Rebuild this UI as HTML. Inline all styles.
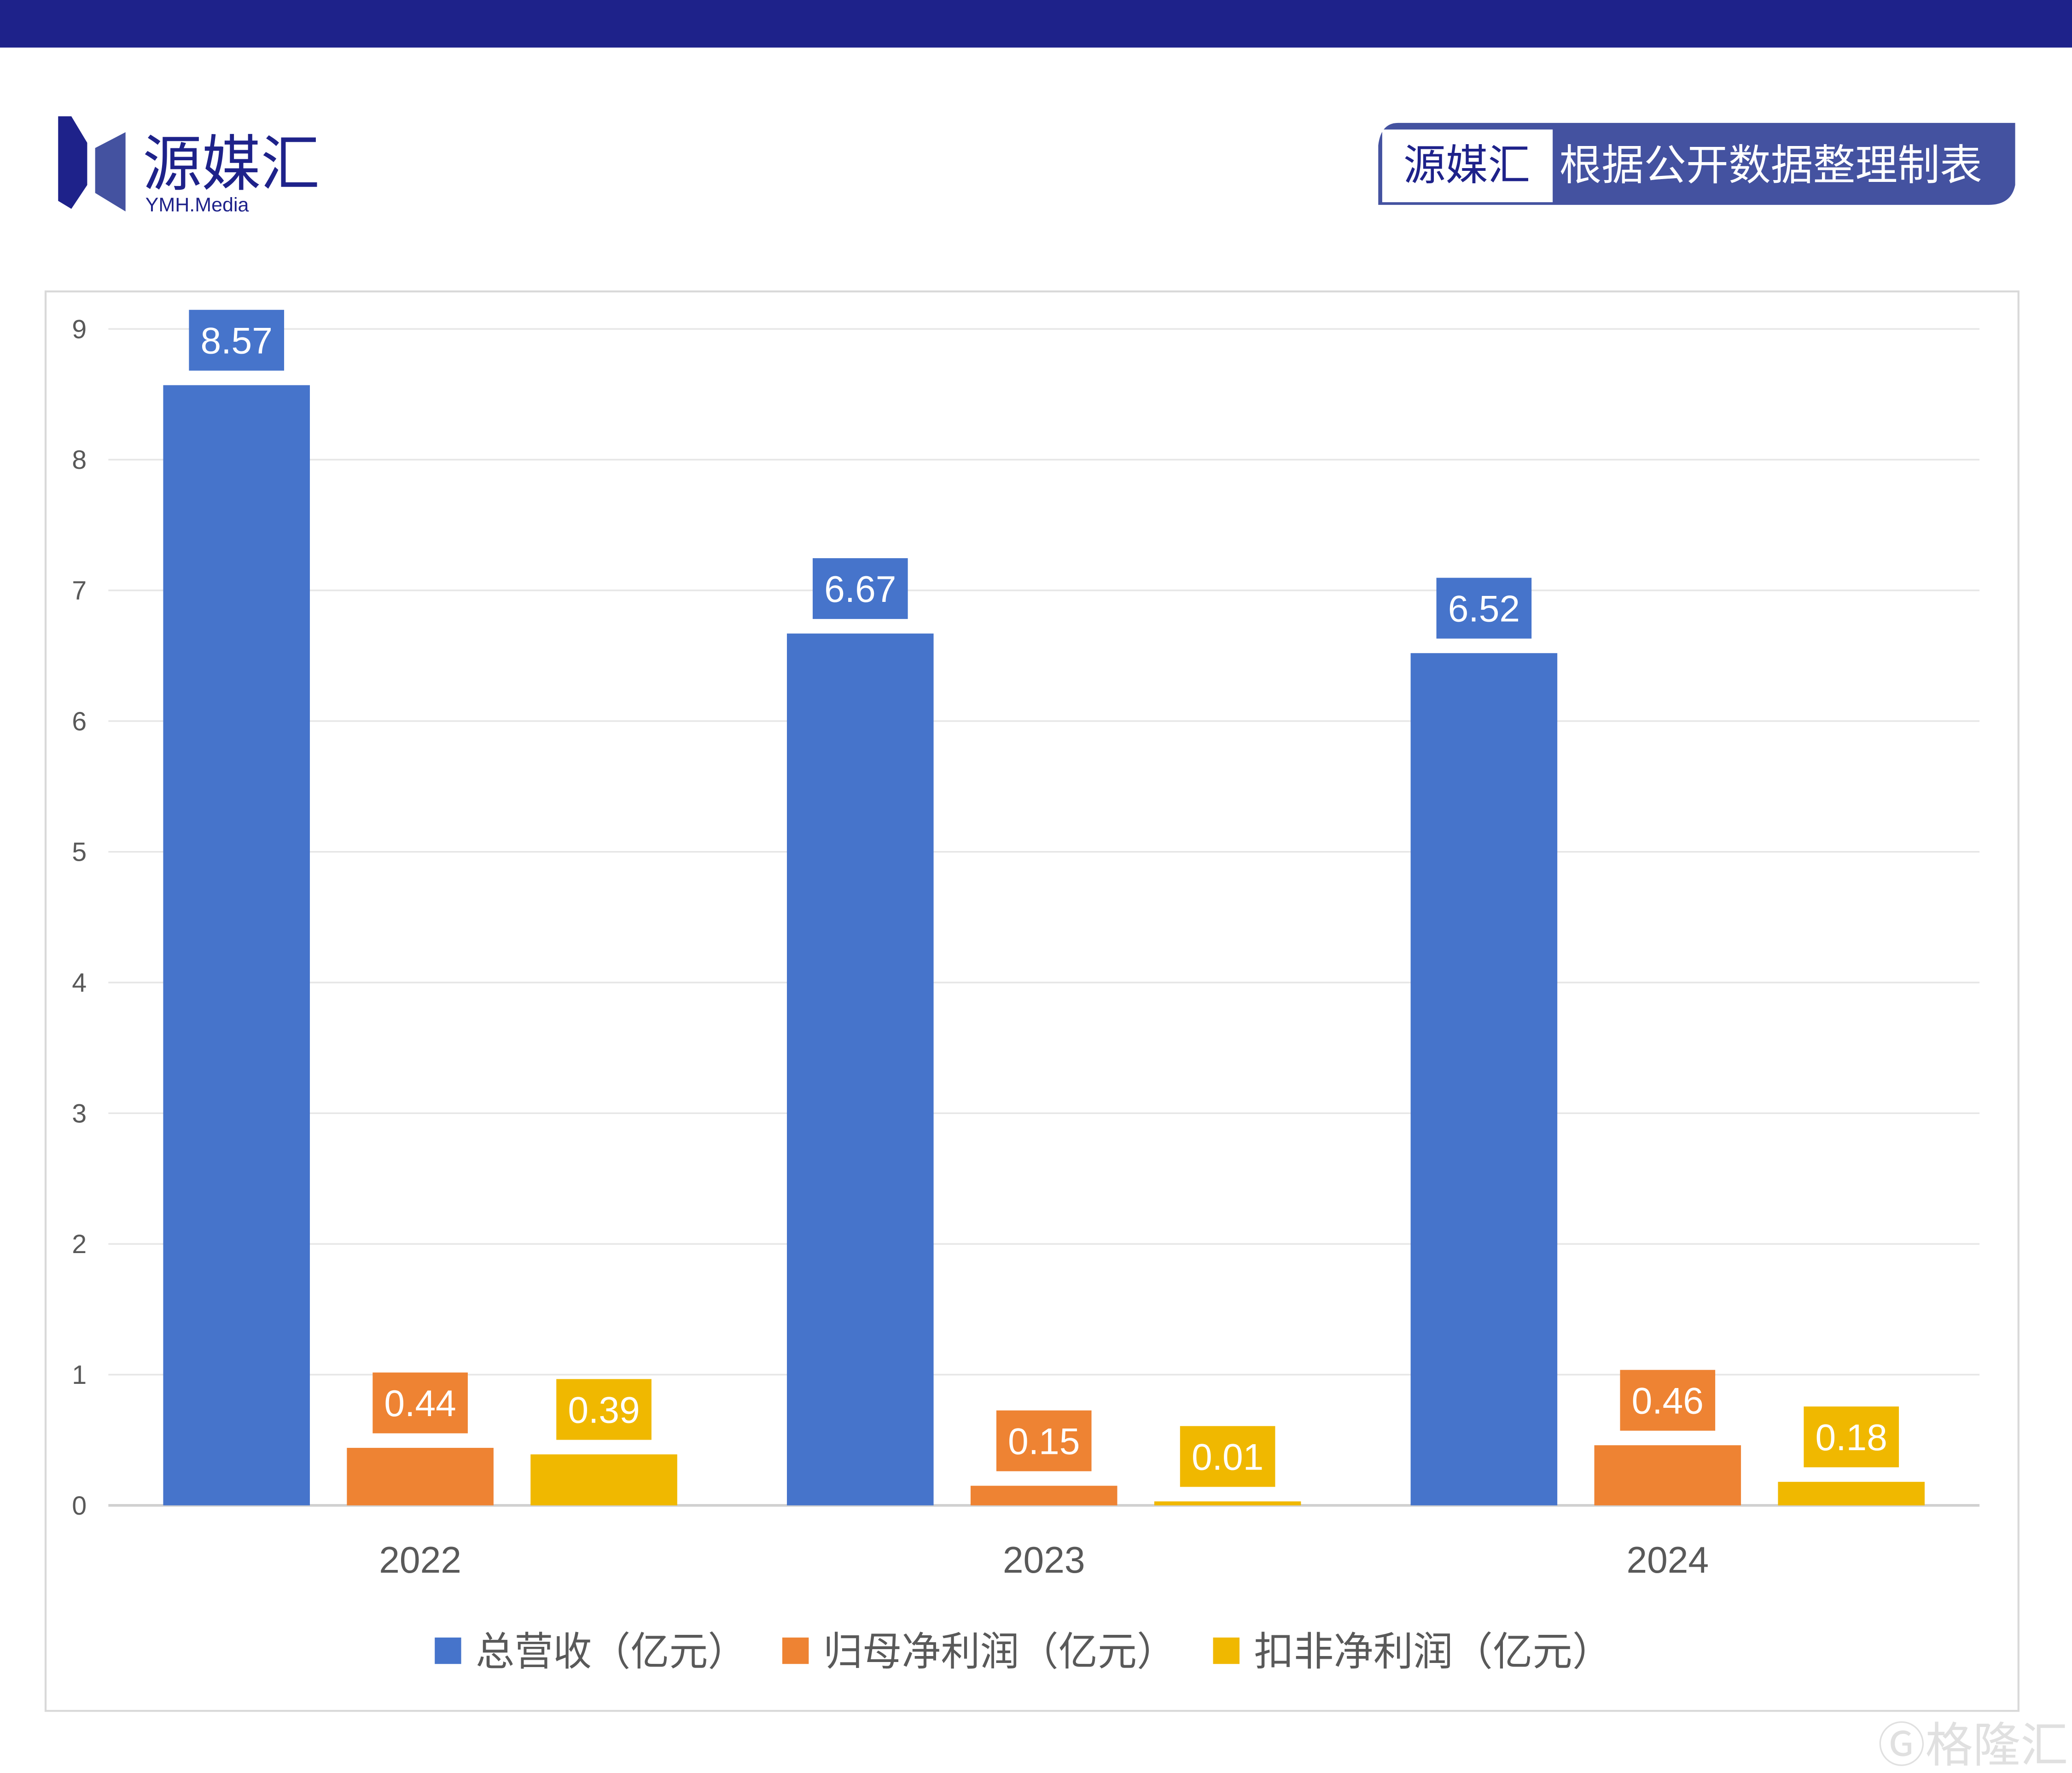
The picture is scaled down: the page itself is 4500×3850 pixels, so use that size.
<!DOCTYPE html>
<html><head><meta charset="utf-8"><style>
html,body{margin:0;padding:0;background:#fff;}
svg{display:block;}
text{font-family:"Liberation Sans","Noto Sans CJK SC",sans-serif;}
</style></head><body>
<svg id="chart" width="4500" height="3850" viewBox="0 0 1568 1341.5" preserveAspectRatio="none" xmlns="http://www.w3.org/2000/svg">
<rect x="0" y="0" width="1568" height="36" fill="#1e228a"/>
<g>
<polygon points="44,88 54,88 66,108 66,140 54,158 44,152" fill="#1e228a"/>
<polygon points="72,112 95,100 95,160 72,146" fill="#4452a0"/>
<text x="108" y="140" font-size="46" fill="#1e228a" font-family="'Noto Sans CJK SC',sans-serif" textLength="134" lengthAdjust="spacingAndGlyphs">源媒汇</text>
<text x="110" y="160" font-size="15" fill="#1e228a">YMH.Media</text>
</g>
<g>
<path d="M1058,93 L1525,93 L1525,140 Q1522,155 1505,155 L1043,155 L1043,110 Q1045,93 1058,93 Z" fill="#4452a0"/>
<rect x="1046" y="98" width="129" height="55" fill="#fff"/>
<text x="1110" y="136" font-size="32" fill="#1e228a" text-anchor="middle" font-family="'Noto Sans CJK SC',sans-serif">源媒汇</text>
<text x="1340" y="136" font-size="32" fill="#fff" text-anchor="middle" font-family="'Noto Sans CJK SC',sans-serif">根据公开数据整理制表</text>
</g>
<rect x="34.5" y="220.5" width="1493" height="1074" fill="#fff" stroke="#d9d9d9" stroke-width="1.5"/>
<g id="grid"></g>
<g id="bars"></g>
<g font-size="30" fill="#595959" font-family="'Noto Sans CJK SC',sans-serif">
<rect x="329" y="1239" width="20" height="20" fill="#4674cb"/>
<text x="360" y="1260" textLength="205" lengthAdjust="spacingAndGlyphs">总营收（亿元）</text>
<rect x="592" y="1239" width="20" height="20" fill="#ee8333"/>
<text x="623" y="1260" textLength="267" lengthAdjust="spacingAndGlyphs">归母净利润（亿元）</text>
<rect x="918" y="1239" width="20" height="20" fill="#f0b800"/>
<text x="949" y="1260" textLength="271" lengthAdjust="spacingAndGlyphs">扣非净利润（亿元）</text>
</g>
<text x="1565" y="1333" font-size="36" fill="#e0e0e0" text-anchor="end" font-family="'Noto Sans CJK SC',sans-serif">Ⓖ格隆汇</text>
</svg>
<script>
const categories=["2022","2023","2024"];
const revenue=[8.57,6.67,6.52];
const netProfit=[0.44,0.15,0.46];
const deductedProfit=[0.39,0.01,0.18];
const yTicks=[0,1,2,3,4,5,6,7,8,9];
const seriesNames=["revenue","net-profit","deducted-profit"];
const NS="http://www.w3.org/2000/svg";
const y0=1139,unit=98.9,xL=82,xR=1498;
const yS=v=>y0-v*unit;
const groupW=(xR-xL)/categories.length;
const xC=i=>xL+groupW*(i+0.5);
function mk(tag,attrs,parent){const e=document.createElementNS(NS,tag);for(const k in attrs)e.setAttribute(k,attrs[k]);parent.appendChild(e);return e;}
const grid=document.getElementById('grid');
yTicks.forEach(t=>{
  const l=mk('line',{x1:xL,x2:xR,y1:yS(t),y2:yS(t),stroke:t===0?'#d0d0d0':'#e6e6e6','stroke-width':t===0?2:1.2},grid);
  
  
  const tx=mk('text',{x:60,y:yS(t)+7,'font-size':20,fill:'#595959','text-anchor':'middle'},grid);
  tx.textContent=t;
  
  
});
categories.forEach((c,i)=>{
  const tx=mk('text',{x:xC(i),y:1190,'font-size':28,fill:'#595959','text-anchor':'middle'},grid);
  tx.textContent=c;
  
  
});
const bars=document.getElementById('bars');
const series=[revenue,netProfit,deductedProfit];
const colors=['#4674cb','#ee8333','#f0b800'];
const offs=[-139,0,139],bw=111;
series.forEach((s,si)=>{
  s.forEach((v,i)=>{
    const cx=xC(i)+offs[si];
    const top=Math.min(yS(v),y0-3);
    const r=mk('rect',{x:cx-bw/2,y:top,width:bw,height:y0-top,fill:colors[si]},bars);
    
    
    const lb=mk('rect',{x:cx-36,y:top-57,width:72,height:46,fill:colors[si]},bars);
    
    
    const t=mk('text',{x:cx,y:top-24,'font-size':28,fill:'#fff','text-anchor':'middle'},bars);
    t.textContent=v.toFixed(2);
    
    
  });
});
</script>
</body></html>
